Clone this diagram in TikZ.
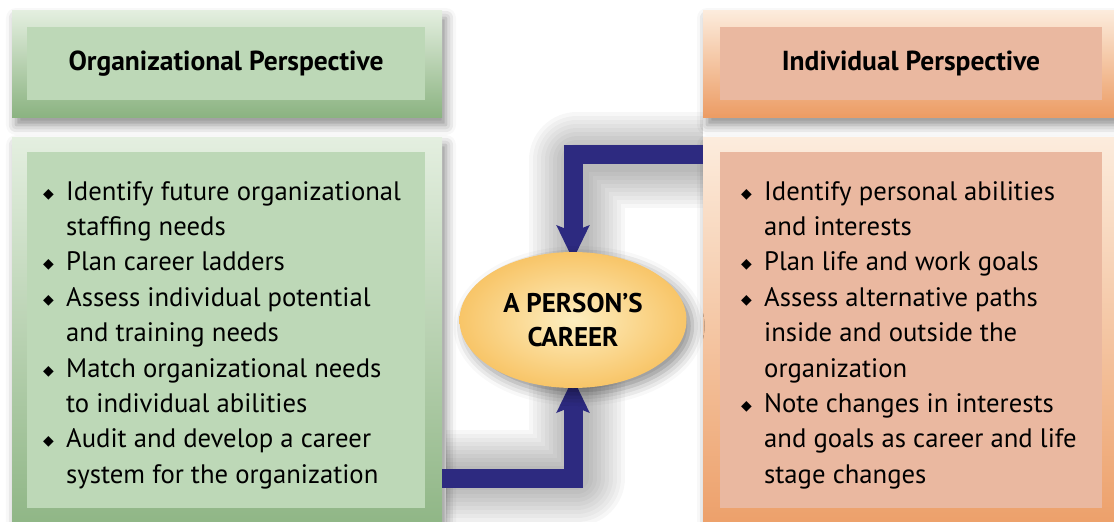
\documentclass[tikz,border=0pt]{standalone}
\usepackage{amssymb}
\usepackage{fontspec}
\setmainfont{PT Sans}
\newfontfamily\symfont{DejaVu Sans}
\usetikzlibrary{shapes.geometric, arrows.meta, shadows.blur}

\definecolor{greenlight}{HTML}{E4EFE0}
\definecolor{greendark}{HTML}{8BB381}
\definecolor{greeninner}{HTML}{BDD8B7}
\definecolor{peachlight}{HTML}{FCECDD}
\definecolor{peachdark}{HTML}{EC9C64}
\definecolor{peachinner}{HTML}{EAB8A0}
\definecolor{careernavy}{HTML}{2D2A80}
\definecolor{eggin}{HTML}{FDEEC0}
\definecolor{eggout}{HTML}{F8C568}

\newcommand{\dia}{\makebox[23pt][l]{\raisebox{2pt}{\fontsize{14}{14}\symfont ◆}}}
\newcommand{\ind}{\hspace*{23pt}}

\begin{document}
\begin{tikzpicture}[x=1pt, y=-1pt]
\tikzstyle{frame}=[rectangle, inner sep=0pt, blur shadow={shadow xshift=4pt, shadow yshift=-8pt, shadow blur radius=10pt, shadow opacity=45}]
\tikzstyle{orgframe}=[frame, top color=greenlight, bottom color=greendark]
\tikzstyle{indframe}=[frame, top color=peachlight, bottom color=peachdark]
\tikzstyle{panel}=[rectangle, inner sep=0pt]
\tikzstyle{headtext}=[font=\fontsize{27.5}{30}\selectfont\bfseries]
\tikzstyle{listtext}=[inner sep=0pt, align=left, font=\fontsize{26.7}{35.4}\selectfont]
\tikzstyle{career}=[draw=careernavy, line width=19pt, line join=miter, -{Stealth[length=34pt, width=32pt, inset=6pt]}]
\tikzstyle{haze}=[draw=black, opacity=0.03, line join=round]

\useasboundingbox (0,0) rectangle (1114,522);
\clip (0,0) rectangle (1114,522);

\node (orghead) at (227,63.5) [orgframe, minimum width=430pt, minimum height=107pt] {};
\node (indhead) at (914,63.5) [indframe, minimum width=422pt, minimum height=107pt] {};
\node (orgbody) at (227,341) [orgframe, minimum width=430pt, minimum height=408pt] {};
\node (indbody) at (914,341) [indframe, minimum width=422pt, minimum height=408pt] {};
\node (ppl) at (573,320) [ellipse, minimum width=227pt, minimum height=136pt] {};

% soft shadow round the arrows
\begin{scope}
\clip (442,0) rectangle (703,522);
\foreach \w in {96,88,...,24}
{
\draw[haze, line width=\w pt] ([xshift=4pt, yshift=-137pt]orgbody.east) -| ([xshift=4pt]ppl.center);
\draw[haze, line width=\w pt] ([yshift=181pt]indbody.west) -| ([xshift=4pt]ppl.center);
}
\end{scope}

\draw[career] ([yshift=-137pt]orgbody.east) -| ([yshift=10pt]ppl.south);
\draw[career] ([yshift=187pt]indbody.west) -| ([yshift=-8pt]ppl.north);

\node (career) at (573,320) [ellipse, minimum width=227pt, minimum height=136pt, inner color=eggin, outer color=eggout, blur shadow={shadow xshift=6pt, shadow yshift=-6pt, shadow blur radius=12pt, shadow opacity=45}, align=center, font=\fontsize{27}{34}\selectfont\bfseries] {A PERSON’S\\CAREER};

\node (orgtitle) at (226,63.5) [panel, fill=greeninner, minimum width=398pt, minimum height=73pt, headtext] {Organizational Perspective};
\node (indtitle) at (911,63.5) [panel, fill=peachinner, minimum width=382pt, minimum height=73pt, headtext] {Individual Perspective};
\node (orgpanel) at (226,330) [panel, fill=greeninner, minimum width=398pt, minimum height=356pt] {};
\node (indpanel) at (911,330) [panel, fill=peachinner, minimum width=382pt, minimum height=356pt] {};

\node (orglist) at (43,181) [listtext, anchor=north west] {\dia Identify future organizational\\
\ind staffing needs\\
\dia Plan career ladders\\
\dia Assess individual potential\\
\ind and training needs\\
\dia Match organizational needs\\
\ind to individual abilities\\
\dia Audit and develop a career\\
\ind system for the organization};

\node (indlist) at (741,181) [listtext, anchor=north west] {\dia Identify personal abilities\\
\ind and interests\\
\dia Plan life and work goals\\
\dia Assess alternative paths\\
\ind inside and outside the\\
\ind organization\\
\dia Note changes in interests\\
\ind and goals as career and life\\
\ind stage changes};
\end{tikzpicture}
\end{document}
